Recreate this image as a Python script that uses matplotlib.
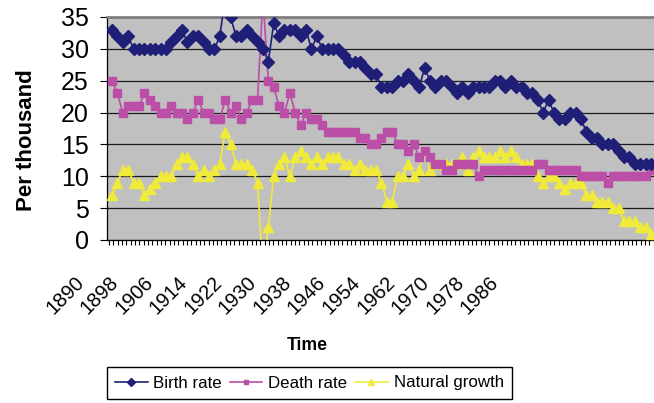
import matplotlib
matplotlib.use('Agg')
import matplotlib.pyplot as plt
from matplotlib import transforms

# values (per thousand), one per year from 1890
birth = [33, 32, 31, 32, 30, 30, 30, 30, 30, 30, 30, 31, 32, 33, 31, 32, 32, 31, 30, 30,
         32, 38, 35, 32, 32, 33, 32, 31, 30, 28, 34,
         32, 33, 33, 33, 32, 33, 30, 32, 30, 30, 30, 30, 29, 28, 28, 28, 27, 26,
         26, 24, 24, 24, 25, 25, 26, 25, 24, 27, 25, 24, 25, 25, 24, 23, 24, 23,
         24, 24, 24, 24, 25, 25, 24, 25, 24, 24, 23, 23, 22, 20, 22, 20, 19, 19,
         20, 20, 19, 17, 16, 16, 15, 15, 15, 14, 13, 13, 12, 12, 12, 12]
death = [25, 23, 20, 21, 21, 21, 23, 22, 21, 20, 20, 21, 20, 20, 19, 20, 22, 20, 20, 19,
         19, 22, 20, 21, 19, 20, 22, 22, 38, 25,
         24, 21, 20, 23, 20, 18, 20, 19, 19, 18, 17, 17, 17, 17, 17, 17, 16, 16,
         15, 15, 16, 17, 17, 15, 15, 14, 15, 13, 14, 13, 12, 12, 11, 11, 12, 12,
         12, 12, 10, 11, 11, 11, 11, 11, 11, 11, 11, 11, 11, 12, 12, 11, 11, 11,
         11, 11, 11, 10, 10, 10, 10, 10, 9, 10, 10, 10, 10, 10, 10, 10, 11]
growth = [7, 9, 11, 11, 9, 9, 7, 8, 9, 10, 10, 10, 12, 13, 13, 12, 10, 11, 10, 11,
          12, 17, 15, 12, 12, 12, 11, 9, -5, 2, 10, 12,
          13, 10, 13, 14, 13, 12, 13, 12, 13, 13, 13, 12, 12, 11, 12, 11, 11, 11,
          9, 6, 6, 10, 10, 12, 10, 11, 14, 11, 12, 12, 12, 12, 12, 13, 11,
          13, 14, 13, 13, 13, 14, 13, 14, 13, 12, 12, 12, 10, 9, 10, 10, 9, 8,
          9, 9, 9, 7, 7, 6, 6, 6, 5, 5, 3, 3, 3, 2, 2, 1]
years = list(range(1890, 1890 + len(birth)))

# category axis labels as shown under the chart
label_years = ['1890', '1898', '1906', '1914', '1922', '1930', '1938',
               '1946', '1954', '1962', '1970', '1978', '1986']

plt.rcParams['font.family'] = ['Liberation Sans', 'DejaVu Sans']

fig = plt.figure(figsize=(6.54, 4.03), dpi=100)
ax = fig.add_axes([107 / 654, 1 - 240 / 403, 547 / 654, 223 / 403])
ax.set_facecolor('#c0c0c0')

l1, = ax.plot(years, birth, color='#1f1f78', marker='D', markersize=6.5, lw=1.2,
              label='Birth rate', zorder=5)
l2, = ax.plot(years, death, color='#bb4fa8', marker='s', markersize=6, lw=1.2,
              label='Death rate', zorder=4)
l3, = ax.plot(years, growth, color='#f0ea3a', marker='^', markersize=7.5, lw=1.2,
              label='Natural growth', zorder=3)

ax.set_ylim(0, 35)
ax.set_yticks(range(0, 36, 5))
ax.yaxis.grid(True, color='#1a1a1a', lw=0.9)
ax.set_axisbelow(True)
ax.set_xlim(years[0] - 0.93, years[-1] + 0.56)
ax.set_xticks([])
ax.tick_params(axis='y', direction='out', length=5, width=0.8, pad=8, labelsize=18)
ax.spines['right'].set_visible(False)
ax.spines['top'].set_color('#808080')
ax.spines['top'].set_linewidth(2)
ax.spines['left'].set_linewidth(0.9)
ax.spines['bottom'].set_linewidth(0.9)

# category tick marks
ax2 = ax.twiny()
ax2.xaxis.tick_bottom()
ax2.set_xlim(-0.5, 126.1)
ax2.set_xticks(range(0, 127))
ax2.tick_params(axis='x', direction='out', length=3.6, width=0.8, labelbottom=False)
for s in ax2.spines.values():
    s.set_visible(False)

off = transforms.ScaledTranslation(-0.35, -0.33, fig.dpi_scale_trans)
tr = transforms.blended_transform_factory(ax2.transData, ax2.transAxes) + off
for k, lab in enumerate(label_years):
    ax2.text(k * 8, 0, lab, transform=tr, rotation=45, ha='right', va='top',
             rotation_mode='anchor', fontsize=14.5)

fig.text(27 / 654, 1 - 140 / 403, 'Per thousand', rotation=90, ha='center', va='center',
         fontsize=16, fontweight='bold')
fig.text(307 / 654, 1 - 346 / 403, 'Time', ha='center', va='center',
         fontsize=12.7, fontweight='bold')

leg = fig.legend([l1, l2, l3], ['Birth rate', 'Death rate', 'Natural growth'],
                 loc='center', bbox_to_anchor=(309.5 / 654, 1 - 383 / 403), ncol=3,
                 fancybox=False, edgecolor='black', framealpha=1,
                 prop={'size': 12.2}, handlelength=1.9,
                 handletextpad=0.35, columnspacing=0.47, borderpad=0.5,
                 markerscale=0.6, borderaxespad=0)
leg.get_frame().set_linewidth(1)

fig.savefig('out.png', dpi=100)
